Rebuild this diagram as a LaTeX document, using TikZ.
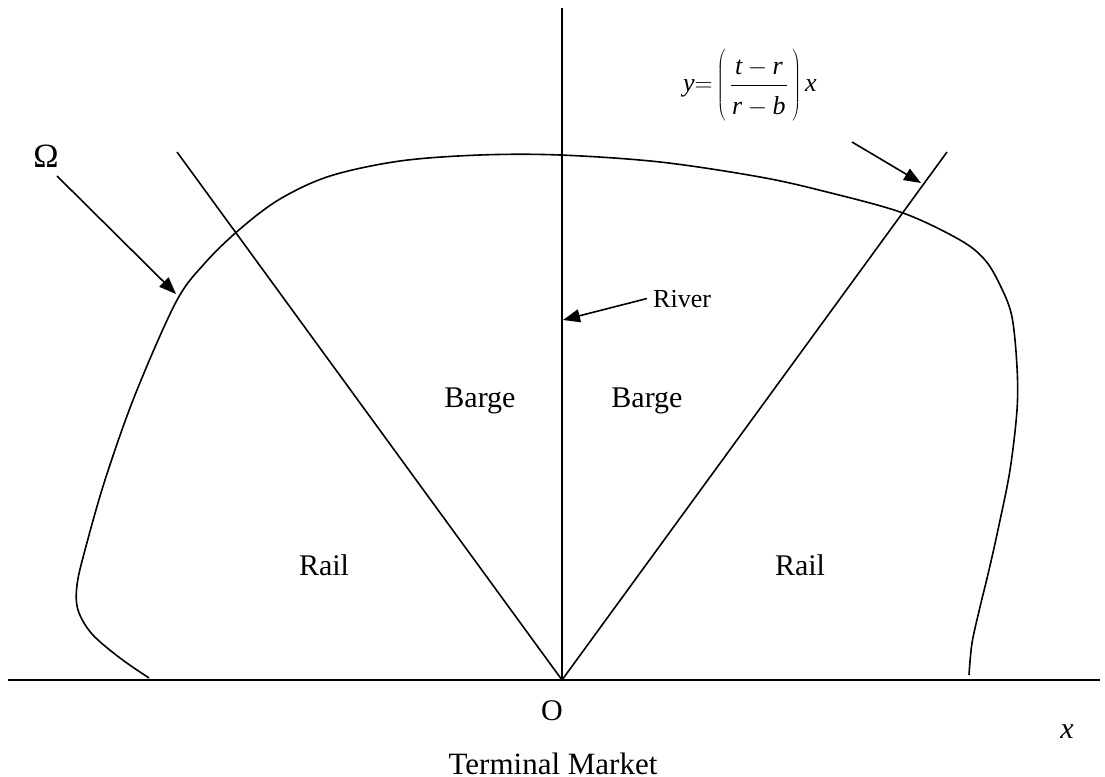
\documentclass[tikz,border=0pt]{standalone}
\usepackage{fontspec}
\setmainfont{Liberation Serif}
\usetikzlibrary{arrows.meta}
\tikzset{
  ln/.style={line width=1.6pt},
  arr/.style={line width=1.6pt, -{Triangle[length=17pt,width=13pt]}},
  lbl/.style={font=\fontsize{30}{36}\selectfont, inner sep=0pt, anchor=base},
  smalllbl/.style={font=\fontsize{26}{30}\selectfont, inner sep=0pt, anchor=base west},
}
\begin{document}
\begin{tikzpicture}[x=1pt,y=-1pt]
\useasboundingbox (0,0) rectangle (1105,776);
% axes and rays
\coordinate (O) at (562,680);
\coordinate (axisW) at (8,680);
\coordinate (axisE) at (1100,680);
\coordinate (riverTop) at (562,8);
\coordinate (leftTop) at (177,152);
\coordinate (rightTop) at (947,152);
\draw[ln] (axisW) -- (axisE);
\draw[ln] (O) -- (riverTop);
\draw[ln] (O) -- (leftTop);
\draw[ln] (O) -- (rightTop);
% region Omega boundary
\draw[ln] plot[smooth, tension=0.55] coordinates {
  (149,678) (120,658) (92,634) (78,610) (77,585) (85,550) (105,480)
  (135,395) (176,302) (205,263) (240,229) (280,199) (330,176) (400,161)
  (480,155) (560,155) (660,162) (760,177) (827,192) (903,213) (960,240)
  (985,260) (1001,287) (1012,317) (1017,367) (1017,410) (1010,470)
  (999,525) (989,570) (980,607) (972,643) (969,675)};
% labels
\node[lbl, font=\fontsize{34}{40}\selectfont] (omega) at (46,167) {Ω};
\node[lbl] (barge1) at (480,407) {Barge};
\node[lbl] (barge2) at (647,407) {Barge};
\node[lbl] (rail1) at (324,575) {Rail};
\node[lbl] (rail2) at (800,575) {Rail};
\node[lbl] (origin) at (552,720) {O};
\node[lbl, font=\fontsize{31}{36}\selectfont] (market) at (553,774) {Terminal Market};
\node[lbl, font=\fontsize{30}{36}\selectfont\itshape] (xlabel) at (1067,738) {x};
\node[smalllbl] (river) at (653,307) {River};
\node[inner sep=0pt, anchor=west, font=\fontsize{26}{30}\selectfont] (eq) at (683,84)
  {$\textit{y}{=}\left(\rule[-30pt]{0pt}{74pt}\,\displaystyle\frac{\,\textit{t}-\textit{r}\,}{\rule{0pt}{1.1em}\textit{r}-\textit{b}}\,\right)\textit{x}$};
% arrows
\coordinate (omegaStart) at (57,176);
\coordinate (omegaTip) at (176,294);
\coordinate (riverTip) at (563,320);
\coordinate (eqStart) at (852,142);
\coordinate (eqTip) at (921,183);
\draw[arr] (omegaStart) -- (omegaTip);
\draw[arr] ([xshift=-6pt]river.west) -- (riverTip);
\draw[arr] (eqStart) -- (eqTip);
\end{tikzpicture}
\end{document}
